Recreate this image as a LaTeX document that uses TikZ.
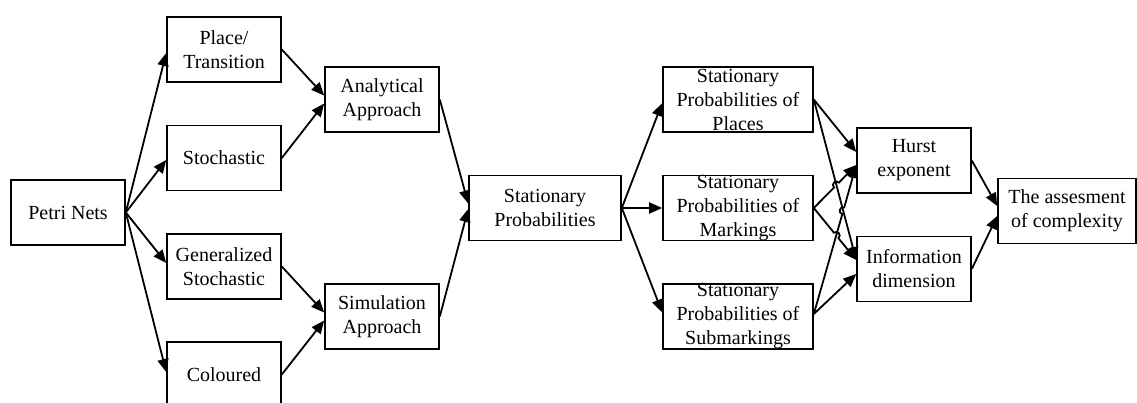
\documentclass[tikz,border=0pt]{standalone}
\usepackage{fontspec}
\setmainfont{Liberation Serif}
\usetikzlibrary{arrows.meta,calc}
\begin{document}
\begin{tikzpicture}[x=1pt,y=-1pt,
  box/.style={draw,line width=1.6pt,fill=white,minimum width=114pt,minimum height=65pt,
    inner sep=0pt,align=center,font=\fontsize{20}{24}\selectfont},
  lbl/.style={inner sep=0pt,align=center,font=\fontsize{20}{24}\selectfont},
  link/.style={line width=1.8pt,-{Triangle[length=13pt,width=11pt]}}]
\useasboundingbox (0,0) rectangle (1137,403);
\clip (0,0) rectangle (1137,403);

% boxes
\node[box] (pn) at (68,212.5) {Petri Nets};
\node[box] (pt) at (224,49.5) {Place/\\Transition};
\node[box] (st) at (224,158) {Stochastic};
\node[box] (gs) at (224,266.5) {Generalized\\Stochastic};
\node[box] (co) at (224,374.5) {Coloured};
\node[box] (an) at (382,99.5) {Analytical\\Approach};
\node[box] (si) at (382,316.5) {Simulation\\Approach};
\node[box,minimum width=152pt] (sp) at (545,208) {Stationary\\Probabilities};
\node[box,minimum width=150pt] (pl) at (738,99.5) {};
\node[lbl] (plt) at (pl) {Stationary\\Probabilities of\\Places};
\node[box,minimum width=150pt] (mk) at (738,208) {};
\node[lbl] (mkt) at (mk) {Stationary\\Probabilities of\\Markings};
\node[box,minimum width=150pt] (sm) at (738,316.5) {};
\node[lbl] (smt) at (sm) {Stationary\\Probabilities of\\Submarkings};
\node[box] (hu) at (914,160.5) {Hurst\\exponent};
\node[box] (id) at (914,269) {Information\\dimension};
\node[box,minimum width=138pt] (as) at (1067,211) {The assesment\\of complexity};

% Petri net classes
\draw[link] (pn.east) -- ($(pt.west)+(0,3.5)$);
\draw[link] (pn.east) -- ($(st.west)+(0,2)$);
\draw[link] (pn.east) -- ($(gs.west)+(0,-3.5)$);
\draw[link] (pn.east) -- ($(co.west)+(0,-2.5)$);

% approaches
\draw[link] (pt.east) -- ($(an.west)+(0,-4)$);
\draw[link] (st.east) -- ($(an.west)+(0,4)$);
\draw[link] (gs.east) -- ($(si.west)+(0,-4)$);
\draw[link] (co.east) -- ($(si.west)+(0,4)$);
\draw[link] (an.east) -- ($(sp.west)+(0,-4.5)$);
\draw[link] (si.east) -- ($(sp.west)+(0,1)$);

% kinds of stationary probabilities
\draw[link] (sp.east) -- ($(pl.west)+(0,3.5)$);
\draw[link] (sp.east) -- (mk.west);
\draw[link] (sp.east) -- ($(sm.west)+(0,-4)$);

% measures, with line hops at crossings
\coordinate (pE) at (pl.east);
\coordinate (mE) at (mk.east);
\coordinate (sE) at ($(sm.east)+(0,-2.5)$);
\coordinate (hA) at ($(hu.west)+(0,-8.5)$);
\coordinate (hB) at ($(hu.west)+(0,4.5)$);
\coordinate (iA) at ($(id.west)+(0,-9)$);
\coordinate (iB) at ($(id.west)+(0,5)$);

\coordinate (x1) at (intersection of pE--iA and mE--hB);
\coordinate (x2) at (intersection of pE--iA and sE--hB);
\coordinate (x3) at (intersection of mE--iA and sE--hB);
\coordinate (j1a) at ($(x1)!3.5pt!(mE)$);
\coordinate (j1b) at ($(x1)!3.5pt!(hB)$);
\coordinate (j2a) at ($(x2)!3.5pt!(sE)$);
\coordinate (j2b) at ($(x2)!3.5pt!(hB)$);
\coordinate (j3a) at ($(x3)!3.5pt!(mE)$);
\coordinate (j3b) at ($(x3)!3.5pt!(iA)$);

\draw[link] (pE) -- (hA);
\draw[link] (pE) -- (iA);
\draw[link] (sE) -- (iB);
\draw[link] (mE) -- (j1a)
  .. controls ($(j1a)!4.7pt!90:(j1b)$) and ($(j1b)!4.7pt!-90:(j1a)$) .. (j1b) -- (hB);
\draw[link] (sE) -- (j2a)
  .. controls ($(j2a)!4.7pt!90:(j2b)$) and ($(j2b)!4.7pt!-90:(j2a)$) .. (j2b) -- (hB);
\draw[link] (mE) -- (j3a)
  .. controls ($(j3a)!4.7pt!90:(j3b)$) and ($(j3b)!4.7pt!-90:(j3a)$) .. (j3b) -- (iA);

% assessment
\draw[link] (hu.east) -- ($(as.west)+(0,-5)$);
\draw[link] (id.east) -- ($(as.west)+(0,5)$);
\end{tikzpicture}
\end{document}
